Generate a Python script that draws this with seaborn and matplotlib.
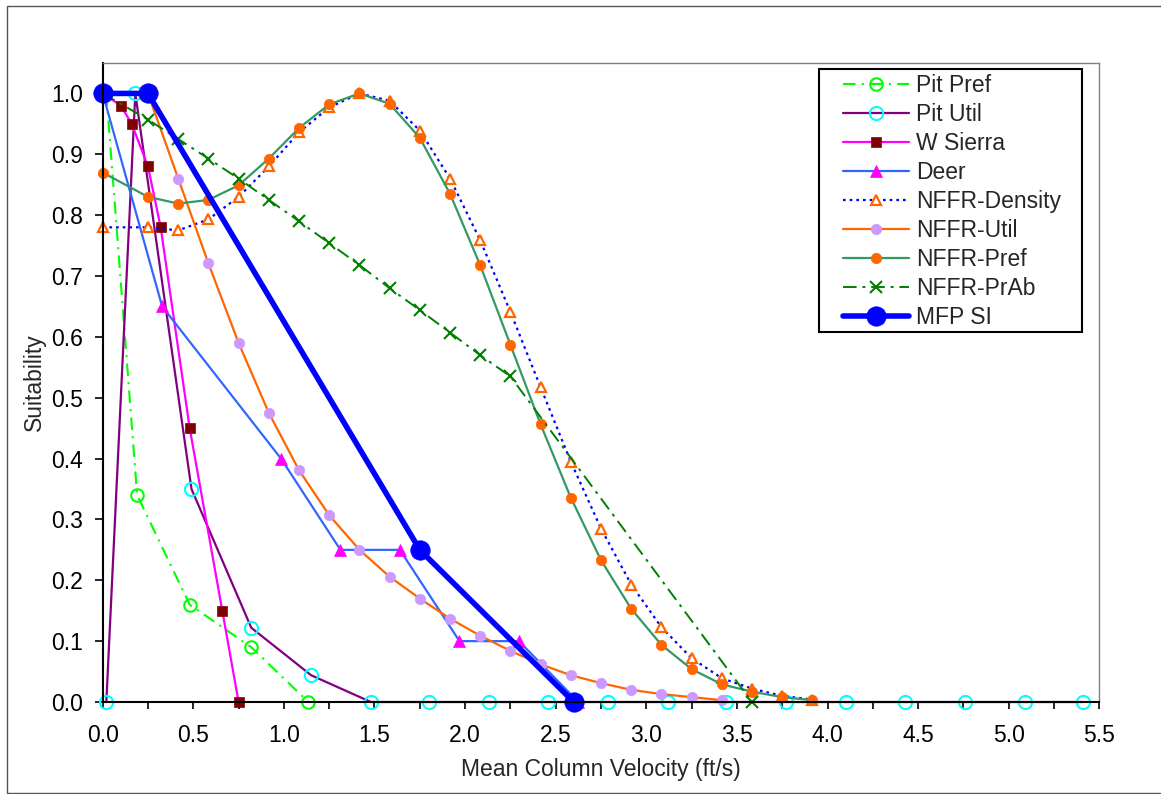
import matplotlib
matplotlib.use("Agg")
import matplotlib.pyplot as plt
from matplotlib.patches import Rectangle
from matplotlib.ticker import MultipleLocator, FormatStrFormatter
import seaborn as sns


# DATA
nffr_x = [0.0, 0.25, 0.417, 0.583, 0.75, 0.917, 1.083, 1.25, 1.417, 1.583, 1.75, 1.917,
          2.083, 2.25, 2.417, 2.583, 2.75, 2.917, 3.083, 3.25, 3.417, 3.583, 3.75, 3.917]

pit_pref_x = [0.02, 0.19, 0.48, 0.82, 1.135]
pit_pref_y = [1.0, 0.34, 0.16, 0.09, 0.0]

pit_util_x = [0.02, 0.18, 0.49, 0.82, 1.15, 1.48, 1.80, 2.13, 2.46, 2.79, 3.12, 3.44,
              3.77, 4.10, 4.43, 4.76, 5.09, 5.41]
pit_util_y = [0.0, 1.0, 0.35, 0.122, 0.044, 0.0, 0.0, 0.0, 0.0, 0.0, 0.0, 0.0,
              0.0, 0.0, 0.0, 0.0, 0.0, 0.0]

w_sierra_x = [0.0, 0.10, 0.16, 0.25, 0.32, 0.48, 0.66, 0.75]
w_sierra_y = [1.0, 0.98, 0.95, 0.88, 0.78, 0.45, 0.15, 0.0]

deer_x = [0.0, 0.328, 0.984, 1.312, 1.64, 1.969, 2.297, 2.625]
deer_y = [1.0, 0.65, 0.40, 0.25, 0.25, 0.10, 0.10, 0.0]

density_y = [0.78, 0.78, 0.775, 0.793, 0.83, 0.88, 0.936, 0.977, 1.0, 0.988, 0.939, 0.86,
             0.759, 0.641, 0.517, 0.395, 0.285, 0.193, 0.123, 0.072, 0.039, 0.022, 0.010, 0.004]

util_x = nffr_x[:21]
util_y = [1.0, 1.0, 0.86, 0.721, 0.59, 0.475, 0.381, 0.307, 0.25, 0.206, 0.170, 0.137,
          0.109, 0.084, 0.062, 0.044, 0.031, 0.020, 0.013, 0.008, 0.003]

pref_y = [0.87, 0.83, 0.819, 0.825, 0.849, 0.893, 0.943, 0.982, 1.0, 0.983, 0.927, 0.835,
          0.718, 0.587, 0.456, 0.336, 0.233, 0.153, 0.094, 0.054, 0.029, 0.017, 0.008, 0.003]

prab_x = nffr_x[:14] + [3.583]
prab_y = [1.0, 0.957, 0.925, 0.893, 0.86, 0.825, 0.79, 0.754, 0.718, 0.680, 0.644, 0.607,
          0.570, 0.535, 0.0]

mfp_x = [0.0, 0.25, 1.75, 2.6]
mfp_y = [1.0, 1.0, 0.25, 0.0]


# STYLE
sns.set_style("white")
plt.rcParams["font.family"] = ["Liberation Sans", "DejaVu Sans"]
FS = 16.5

W, H = 1161, 794
fig = plt.figure(figsize=(W / 100, H / 100), dpi=100)
ax = fig.add_axes([102.7 / W, 1 - 702 / H, (1099.3 - 102.7) / W, (702 - 63) / H])


def draw(x, y, label, **kw):
    sns.lineplot(x=x, y=y, ax=ax, label=label, estimator=None, sort=False,
                 clip_on=False, **kw)


draw(pit_pref_x, pit_pref_y, "Pit Pref", color="#00FF00", lw=1.5,
     linestyle=(0, (6, 3, 1, 3)), marker="o", markersize=9,
     markerfacecolor="none", markeredgecolor="#00FF00", markeredgewidth=1.5)
draw(pit_util_x, pit_util_y, "Pit Util", color="#800080", lw=1.6,
     marker="o", markersize=9.5,
     markerfacecolor="none", markeredgecolor="#00FFFF", markeredgewidth=1.5)
draw(w_sierra_x, w_sierra_y, "W Sierra", color="#FF00FF", lw=1.6,
     marker="s", markersize=7.5,
     markerfacecolor="#800000", markeredgecolor="#800000", markeredgewidth=0.5)
draw(deer_x, deer_y, "Deer", color="#3366FF", lw=1.6,
     marker="^", markersize=9,
     markerfacecolor="#FF00FF", markeredgecolor="#FF00FF", markeredgewidth=0.5)
draw(nffr_x, density_y, "NFFR-Density", color="#0000FF", lw=1.6,
     linestyle=(0, (1.2, 1.8)), marker="^", markersize=7.5,
     markerfacecolor="white", markeredgecolor="#FF6600", markeredgewidth=1.6)
draw(util_x, util_y, "NFFR-Util", color="#FF6600", lw=1.6,
     marker="o", markersize=7.5,
     markerfacecolor="#CC99FF", markeredgecolor="#CC99FF", markeredgewidth=0.5)
draw(nffr_x, pref_y, "NFFR-Pref", color="#339966", lw=1.6,
     marker="o", markersize=7.5,
     markerfacecolor="#FF6600", markeredgecolor="#FF6600", markeredgewidth=0.5)
draw(prab_x, prab_y, "NFFR-PrAb", color="#008000", lw=1.4,
     linestyle=(0, (7, 3, 1.5, 3)), marker="x", markersize=9,
     markeredgecolor="#008000", markeredgewidth=1.5)
draw(mfp_x, mfp_y, "MFP SI", color="#0000FF", lw=4.0,
     marker="o", markersize=14,
     markerfacecolor="#0000FF", markeredgecolor="#0000FF", markeredgewidth=0.5)


# AXES
ax.set_xlim(0, 5.5)
ax.set_ylim(0, 1.05)
ax.xaxis.set_major_locator(MultipleLocator(0.5))
ax.xaxis.set_minor_locator(MultipleLocator(0.25))
ax.xaxis.set_major_formatter(FormatStrFormatter("%.1f"))
ax.yaxis.set_major_formatter(FormatStrFormatter("%.1f"))
ax.set_yticks([v / 10 for v in range(11)])
ax.tick_params(axis="x", which="both", direction="out", length=5, width=1.2,
               bottom=True, labelsize=FS, pad=11, colors="black")
ax.tick_params(axis="y", which="major", direction="out", length=6, width=1.2,
               left=True, labelsize=FS, pad=8, colors="black")

for side in ["left", "bottom"]:
    ax.spines[side].set_color("black")
    ax.spines[side].set_linewidth(1.5)
for side in ["top", "right"]:
    ax.spines[side].set_color("#808080")
    ax.spines[side].set_linewidth(1.0)

ax.set_xlabel("Mean Column Velocity (ft/s)", fontsize=FS, labelpad=8)
ax.set_ylabel("Suitability", fontsize=FS, labelpad=4)


# LEGEND
leg = ax.legend(loc="upper left", bbox_to_anchor=(843 / W, 1 - 74 / H),
                bbox_transform=fig.transFigure, frameon=False, fontsize=FS,
                handlelength=2.9, handletextpad=0.3, labelspacing=0.26,
                borderpad=0, borderaxespad=0, numpoints=1)
fig.patches.append(Rectangle((819 / W, 1 - 332 / H), (1082 - 819) / W, (332 - 69) / H,
                             transform=fig.transFigure, fill=False,
                             edgecolor="black", linewidth=1.5, zorder=10))

# chart border
fig.patches.append(Rectangle((7 / W, 1 / H), (1170 - 7) / W, (788 - 1) / H,
                             transform=fig.transFigure, fill=False,
                             edgecolor="#555555", linewidth=1.0))

fig.savefig("out.png", dpi=100)
plt.close(fig)
